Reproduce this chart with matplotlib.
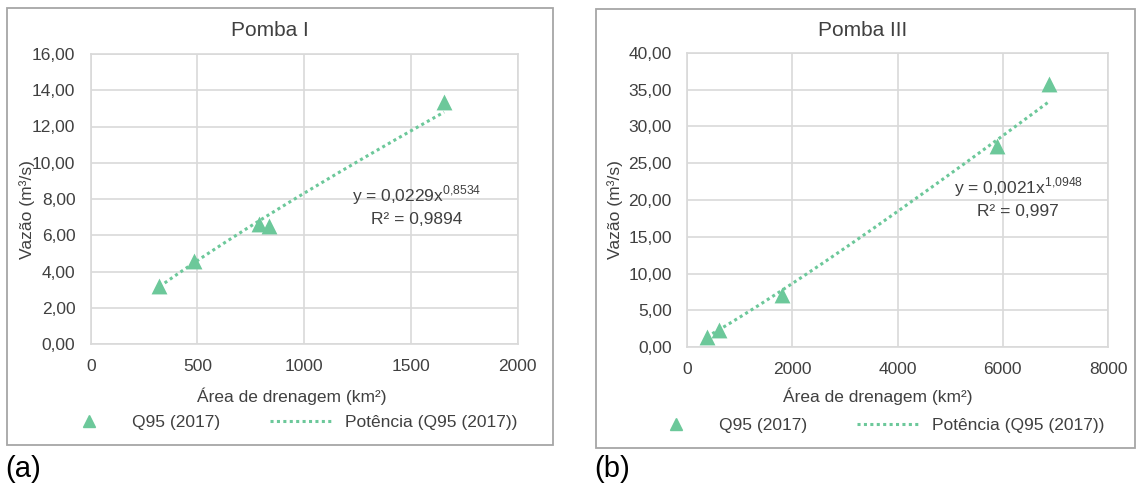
import numpy as np
import matplotlib
matplotlib.use('Agg')
import matplotlib.pyplot as plt
from matplotlib.patches import Rectangle
from matplotlib.lines import Line2D
from matplotlib.ticker import FuncFormatter

plt.rcParams['font.family'] = ['Liberation Sans', 'DejaVu Sans']
plt.rcParams['mathtext.fontset'] = 'custom'
plt.rcParams['mathtext.rm'] = 'Liberation Sans'

# data
area_a = [322, 485, 789, 836, 1656]
q95_a = [3.22, 4.58, 6.62, 6.50, 13.36]
area_b = [375, 608, 1800, 5885, 6873]
q95_b = [1.4, 2.3, 7.1, 27.4, 35.8]

# power trendline coefficients shown on the chart
coef_a = (0.0229, 0.8534)
coef_b = (0.0021, 1.0948)
r2_a = '0,9894'
r2_b = '0,997'

GREEN = '#6cc89a'
GRID = '#d9d9d9'
TXT = '#404040'
W, H = 1137, 488


def add_ax(fig, l, t, r, b):
    return fig.add_axes([l / W, 1 - b / H, (r - l) / W, (b - t) / H])


def comma(fmt):
    return FuncFormatter(lambda v, p: (fmt % v).replace('.', ','))


def draw_panel(fig, box, rect, x, y, coef, r2, xmax, ymax, xstep, ystep,
               title, title_x, xlab_x, ylab_x, eq_pos, leg_x, leg_y, tag):
    # chart border
    bl, bt, br, bb = box
    fig.add_artist(Rectangle((bl / W, 1 - bb / H), (br - bl) / W, (bb - bt) / H,
                             transform=fig.transFigure, fill=False,
                             ec='#a6a6a6', lw=1.3))
    ax = add_ax(fig, *rect)
    ax.scatter(x, y, marker='^', s=130, color=GREEN, zorder=3, linewidths=0)
    xs = np.linspace(min(x), max(x), 200)
    ax.plot(xs, coef[0] * xs ** coef[1], color=GREEN, lw=2.2,
            linestyle=(0, (1, 1.1)), zorder=2)
    ax.set_xlim(0, xmax)
    ax.set_ylim(0, ymax)
    ax.set_xticks(np.arange(0, xmax + 1, xstep))
    ax.set_yticks(np.arange(0, ymax + 0.01, ystep))
    ax.yaxis.set_major_formatter(comma('%.2f'))
    ax.grid(True, color=GRID, lw=1.2)
    ax.set_axisbelow(True)
    for s in ax.spines.values():
        s.set_color(GRID)
        s.set_linewidth(1.2)
    ax.tick_params(length=0, labelsize=12.5, colors=TXT, pad=11)

    fig.text(title_x / W, 1 - 30 / H, title, ha='center', va='center',
             fontsize=15, color=TXT)
    fig.text(xlab_x / W, 1 - 396 / H, 'Área de drenagem (km²)', ha='center',
             va='center', fontsize=12.5, color=TXT)
    fig.text(ylab_x / W, 1 - 210 / H, 'Vazão (m³/s)', ha='center', va='center',
             rotation=90, fontsize=12.5, color=TXT)

    ex, ey1, ey2 = eq_pos
    a_txt = ('%.4f' % coef[0]).replace('.', ',')
    b_txt = ('%.4f' % coef[1]).replace('.', '{,}')
    ax.text(ex, ey1, 'y = %sx$^{\\mathrm{%s}}$' % (a_txt, b_txt), ha='center',
            va='center', fontsize=12.5, color=TXT)
    ax.text(ex, ey2, 'R² = %s' % r2, ha='center', va='center',
            fontsize=12.5, color=TXT)

    handles = [Line2D([], [], marker='^', ms=8, color=GREEN, ls='none'),
               Line2D([], [], color=GREEN, lw=2.2, linestyle=(0, (1, 1.1)))]
    fig.legend(handles, ['Q95 (2017)', 'Potência (Q95 (2017))'], ncol=2,
               loc='center left', bbox_to_anchor=(leg_x / W, 1 - leg_y / H),
               frameon=False, borderpad=0, borderaxespad=0, fontsize=12.5,
               handlelength=3.7, handletextpad=0.6, columnspacing=2.9,
               labelcolor=TXT)
    fig.text((bl - 2) / W, 1 - 469 / H, tag, ha='left', va='center',
             fontsize=21, color='black')
    return ax


fig = plt.figure(figsize=(W / 100, H / 100), dpi=100)

draw_panel(fig, (7, 8, 553, 445), (90.7, 54, 517.5, 344), np.array(area_a),
           q95_a, coef_a, r2_a, 2000, 16, 500, 2,
           'Pomba I', 270, 292, 27, (1526, 8.2, 6.89), 57, 422, '(a)')
draw_panel(fig, (596, 9, 1135, 448), (687, 53, 1108, 347), np.array(area_b),
           q95_b, coef_b, r2_b, 8000, 40, 2000, 5,
           'Pomba III', 863, 878, 615, (6293, 21.8, 18.5), 644, 425, '(b)')

fig.savefig('out.png', dpi=100)
